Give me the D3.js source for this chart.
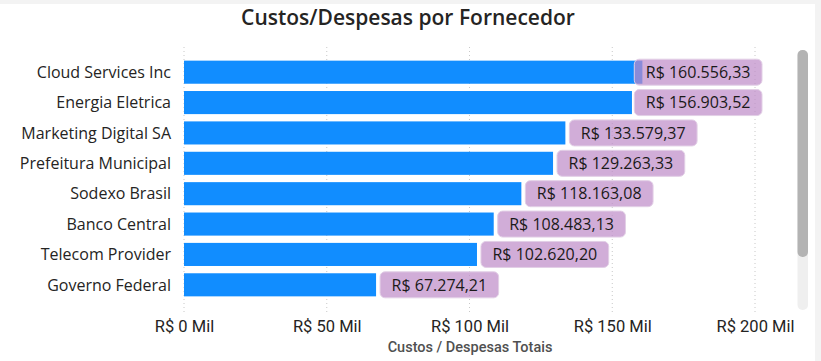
<!DOCTYPE html>
<html>
<head>
<meta charset="utf-8">
<script src="https://cdn.jsdelivr.net/npm/d3@7"></script>
<style>
  html, body { margin: 0; padding: 0; background: #f3f3f3; }
  svg { display: block; }
</style>
</head>
<body>
<svg id="svg" width="821" height="361"></svg>
<script>
// DATA
var fornecedores = ["Cloud Services Inc", "Energia Eletrica", "Marketing Digital SA", "Prefeitura Municipal",
  "Sodexo Brasil", "Banco Central", "Telecom Provider", "Governo Federal"];
var valores = [160556.33, 156903.52, 133579.37, 129263.33, 118163.08, 108483.13, 102620.20, 67274.21];
var tickValues = [0, 50000, 100000, 150000, 200000];
var tickLabels = ["R$ 0 Mil", "R$ 50 Mil", "R$ 100 Mil", "R$ 150 Mil", "R$ 200 Mil"];

var svg = d3.select("#svg");

// white panel
svg.append("rect")
  .attr("x", 0).attr("y", 4)
  .attr("width", 815).attr("height", 357)
  .attr("fill", "#fff");

var x = d3.scaleLinear().domain([0, 200000]).range([184, 755]);
var y = d3.scaleBand().domain(fornecedores).range([57, 300])
  .paddingInner(0.24).paddingOuter(0.12);

var fmt = function (v) {
  var s = v.toFixed(2).split(".");
  var inteiro = s[0].replace(/\B(?=(\d{3})+(?!\d))/g, ".");
  return "R$ " + inteiro + "," + s[1];
};

// title
svg.append("text")
  .attr("x", 408).attr("y", 25)
  .attr("text-anchor", "middle")
  .attr("font-family", "'Open Sans', sans-serif")
  .attr("font-weight", 600)
  .attr("font-size", 21)
  .attr("fill", "#252423")
  .text("Custos/Despesas por Fornecedor");

// gridlines
svg.append("g")
  .selectAll("line")
  .data(tickValues)
  .enter().append("line")
  .attr("x1", function (d) { return x(d); })
  .attr("x2", function (d) { return x(d); })
  .attr("y1", 47).attr("y2", 312)
  .attr("stroke", "#c8c8c8")
  .attr("stroke-width", 1)
  .attr("stroke-dasharray", "1,3");

// x axis
var xAxis = svg.append("g")
  .attr("transform", "translate(0,312)")
  .call(d3.axisBottom(x).tickValues(tickValues).tickSize(0)
    .tickFormat(function (d, i) { return tickLabels[i]; }));
xAxis.select(".domain").remove();
xAxis.selectAll("text")
  .attr("dy", 0)
  .attr("y", 20)
  .attr("font-family", "Roboto, sans-serif")
  .attr("font-size", 16.5)
  .attr("fill", "#252423");

svg.append("text")
  .attr("x", 470).attr("y", 352)
  .attr("text-anchor", "middle")
  .attr("font-family", "Roboto, sans-serif")
  .attr("font-weight", 500)
  .attr("font-size", 14.5)
  .attr("fill", "#505050")
  .text("Custos / Despesas Totais");

// category labels
svg.append("g")
  .selectAll("text")
  .data(fornecedores)
  .enter().append("text")
  .attr("x", 171)
  .attr("y", function (d) { return y(d) + y.bandwidth() / 2; })
  .attr("dy", "0.36em")
  .attr("text-anchor", "end")
  .attr("font-family", "'Open Sans', sans-serif")
  .attr("font-size", 16)
  .attr("fill", "#252423")
  .text(function (d) { return d; });

// bars
svg.append("g")
  .selectAll("rect")
  .data(valores)
  .enter().append("rect")
  .attr("x", x(0))
  .attr("y", function (d, i) { return y(fornecedores[i]); })
  .attr("width", function (d) { return x(d) - x(0); })
  .attr("height", y.bandwidth())
  .attr("fill", "#118DFF");

// data labels
var labels = svg.append("g")
  .selectAll("g")
  .data(valores)
  .enter().append("g");

labels.append("text")
  .attr("font-family", "'Open Sans', sans-serif")
  .attr("font-size", 16)
  .attr("fill", "#1b1a19")
  .attr("dy", "0.36em")
  .text(function (d) { return fmt(d); });

labels.each(function (d, i) {
  var g = d3.select(this);
  var t = g.select("text");
  var w = t.node().getComputedTextLength() + 23;
  var bx = Math.min(x(d) + 4, 762 - w);
  var cy = y(fornecedores[i]) + y.bandwidth() / 2;
  g.insert("rect", "text")
    .attr("x", bx).attr("y", cy - 13)
    .attr("width", w).attr("height", 26)
    .attr("rx", 5)
    .attr("fill", "rgb(190,138,200)")
    .attr("fill-opacity", 0.7)
    .attr("stroke", "#e2cfe6")
    .attr("stroke-width", 1);
  t.attr("x", bx + 11.5).attr("y", cy);
});

// scrollbar
svg.append("rect")
  .attr("x", 797.5).attr("y", 50)
  .attr("width", 10.5).attr("height", 260)
  .attr("rx", 5)
  .attr("fill", "#efefef");
svg.append("rect")
  .attr("x", 797.5).attr("y", 50)
  .attr("width", 10.5).attr("height", 207)
  .attr("rx", 5)
  .attr("fill", "#b3b3b3");
</script>
</body>
</html>
